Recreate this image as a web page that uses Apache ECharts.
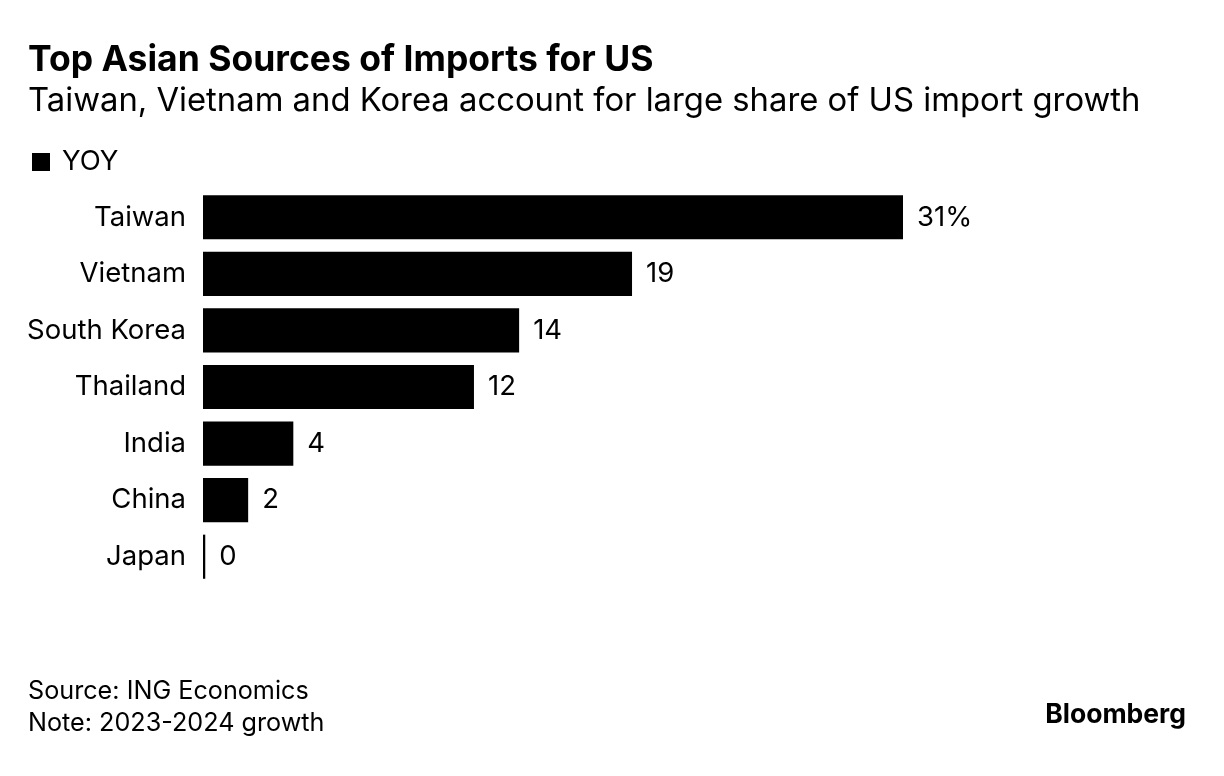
<!DOCTYPE html>
<html lang="en">
<head>
    <meta charset="UTF-8">
    <title>Top Asian Sources of Imports for US</title>
    <style>
        body { margin: 0; overflow: hidden; background: #fff; }
        #chart { width: 1224px; height: 776px; }
    </style>
</head>
<body>
    <div id="chart"></div>
    <script src="https://cdn.jsdelivr.net/npm/echarts@6/dist/echarts.min.js"></script>
    <script>
        // data
        var countries = ['Taiwan', 'Vietnam', 'South Korea', 'Thailand', 'India', 'China', 'Japan'];
        var yoy = [31, 19, 14, 12, 4, 2, 0.1];
        var valueLabels = ['31%', '19', '14', '12', '4', '2', '0'];

        var font = 'Inter, "Liberation Sans", Arial, sans-serif';
        var myChart = echarts.init(document.getElementById('chart'));

        var option = {
            backgroundColor: '#fff',
            animation: false,
            textStyle: { fontFamily: font },
            title: [{
                text: 'Top Asian Sources of Imports for US',
                left: 23, top: 37,
                textStyle: { fontFamily: font, fontSize: 35.5, fontWeight: 'bold', color: '#000' }
            }, {
                text: 'Taiwan, Vietnam and Korea account for large share of US import growth',
                left: 23, top: 80,
                textStyle: { fontFamily: font, fontSize: 32.8, fontWeight: 'normal', color: '#000' }
            }, {
                text: 'Source: ING Economics\nNote: 2023-2024 growth',
                left: 23, top: 670,
                textStyle: { fontFamily: font, fontSize: 25.2, fontWeight: 'normal', color: '#000', lineHeight: 32 }
            }, {
                text: 'Bloomberg',
                right: 33, top: 697,
                textStyle: { fontFamily: font, fontSize: 26.5, fontWeight: 'bold', color: '#000' }
            }],
            legend: {
                left: 27, top: 143,
                itemWidth: 18, itemHeight: 18,
                icon: 'rect',
                selectedMode: false,
                textStyle: { fontFamily: font, fontSize: 27.5, color: '#000', padding: [0, 0, 0, 7] },
                data: ['YOY']
            },
            grid: { left: 203, right: 321, top: 189, bottom: 191, containLabel: false },
            xAxis: {
                type: 'value', min: 0, max: 31, show: false
            },
            yAxis: {
                type: 'category',
                inverse: true,
                data: countries,
                axisLine: { show: false },
                axisTick: { show: false },
                axisLabel: { fontFamily: font, fontSize: 27.5, color: '#000', margin: 17 }
            },
            series: [{
                name: 'YOY',
                type: 'bar',
                data: yoy,
                barCategoryGap: '22%',
                itemStyle: { color: '#000' },
                label: {
                    show: true,
                    position: 'right',
                    distance: 14,
                    fontFamily: font,
                    fontSize: 27.5,
                    color: '#000',
                    formatter: function (p) { return valueLabels[p.dataIndex]; }
                }
            }]
        };

        myChart.setOption(option);
    </script>
</body>
</html>
